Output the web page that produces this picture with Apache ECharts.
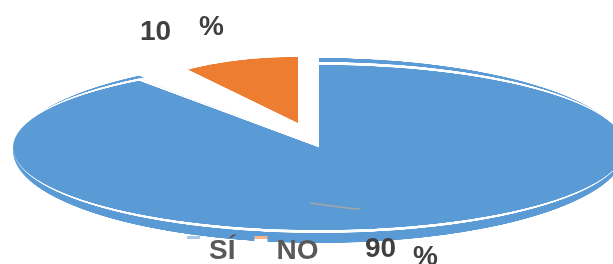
<!DOCTYPE html>
<html>
<head>
<meta charset="utf-8" />
<title>SÍ / NO</title>
<script src="https://cdn.jsdelivr.net/npm/echarts@6/dist/echarts.min.js"></script>
<style>
  body { margin: 0; overflow: hidden; background: #fff; }
  #wrap { position: relative; width: 613px; height: 264px; overflow: hidden; }
  .layer { position: absolute; left: 0; top: 0; width: 613px; transform-origin: 0 0; }
</style>
</head>
<body>
<div id="wrap">
  <div id="band" class="layer"></div>
  <div id="rim" class="layer"></div>
  <div id="face" class="layer"></div>
  <div id="slice" class="layer"></div>
  <div id="main" class="layer" style="height:264px"></div>
</div>
<script type="text/javascript">
var categories = ['SÍ', 'NO'];
var values = [90, 10];
var colors = ['#5B9BD5', '#ED7D31'];
var paleColors = ['#a9c9e9', '#f6b48a'];

var total = values.reduce(function (a, b) { return a + b; }, 0);
var pct = values.map(function (v) { return Math.round(v / total * 100); });
var font = 'bold 28px "Liberation Sans", Arial, sans-serif';

// each layer is a flat pie squashed with css to fake the 3d tilt
function layer(id, scale, cx, cy, r, fill) {
  var el = document.getElementById(id);
  el.style.height = '1100px';
  el.style.transform = 'scaleY(' + scale + ')';
  var chart = echarts.init(el);
  chart.setOption({
    animation: false,
    series: [{
      type: 'pie',
      silent: true,
      startAngle: 90,
      center: [cx, cy / scale],
      radius: r,
      label: { show: false },
      labelLine: { show: false },
      data: categories.map(function (name, i) {
        return { name: name, value: values[i], itemStyle: { color: fill(i), borderWidth: 0 } };
      })
    }]
  });
}

var none = 'rgba(0,0,0,0)';
layer('band', 92.5 / 306, 319, 150.5, 306, function (i) { return i == 0 ? colors[0] : none; });
layer('rim', 85.5 / 306, 319, 147.5, 306, function () { return '#fff'; });
layer('face', 82.5 / 306, 319, 147.5, 306, function (i) { return i == 0 ? colors[0] : none; });
layer('slice', 66 / 187, 298, 123, 187, function (i) { return i == 1 ? colors[1] : none; });

// legend key: white box with a pale stripe on top
function keyFill(c) {
  return {
    type: 'linear', x: 0, y: 0, x2: 0, y2: 1,
    colorStops: [
      { offset: 0, color: c }, { offset: 0.1, color: c },
      { offset: 0.1, color: '#fff' }, { offset: 1, color: '#fff' }
    ]
  };
}

var main = echarts.init(document.getElementById('main'));
main.setOption({
  animation: false,
  color: colors,
  legend: {
    data: categories.map(function (name, i) {
      return { name: name, itemStyle: { color: keyFill(paleColors[i]) } };
    }),
    left: 182,
    top: 231,
    selectedMode: false,
    icon: 'path://M0,0H13V11H0Z M0,29.9H0.1V30H0Z',
    itemWidth: 13,
    itemHeight: 30,
    itemGap: 19,
    textStyle: {
      fontSize: 28, fontWeight: 'bold', color: '#595959',
      fontFamily: '"Liberation Sans", Arial, sans-serif',
      padding: [0, 0, 0, 4]
    }
  },
  series: [{
    type: 'pie',
    radius: 0,
    silent: true,
    label: { show: false },
    data: categories.map(function (name, i) { return { name: name, value: values[i] }; })
  }],
  graphic: [
    { type: 'text', left: 140, top: 18, style: { text: String(pct[1]), font: font, fill: '#404040' } },
    { type: 'text', left: 199, top: 13, style: { text: '%', font: font, fill: '#404040' } },
    { type: 'text', left: 365, top: 235, style: { text: String(pct[0]), font: font, fill: '#404040' } },
    { type: 'text', left: 413, top: 243, style: { text: '%', font: font, fill: '#404040' } },
    {
      type: 'polyline',
      shape: { points: [[310, 203], [347, 208], [360, 209]] },
      style: { stroke: '#a6a6a6', lineWidth: 1.5, fill: null }
    }
  ]
});
</script>
</body>
</html>
